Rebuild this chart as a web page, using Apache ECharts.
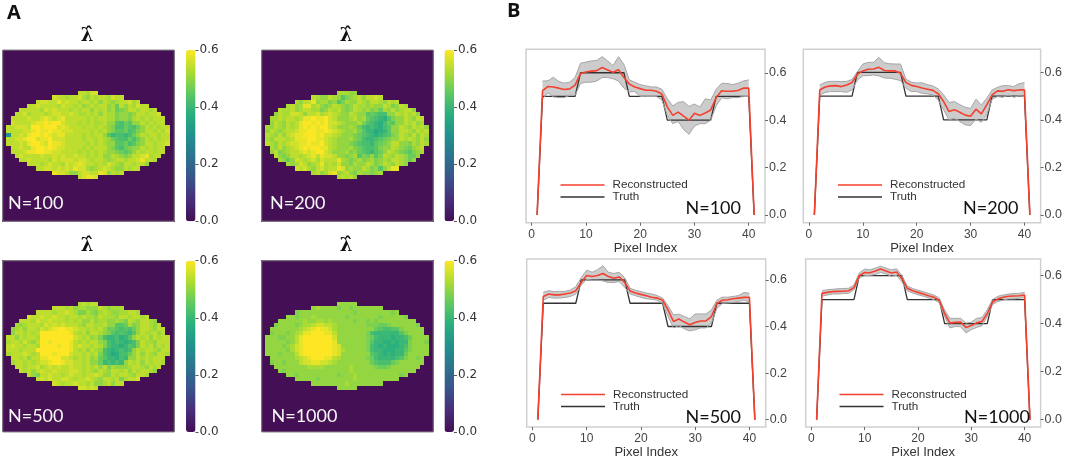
<!DOCTYPE html>
<html><head><meta charset="utf-8">
<style>html,body{margin:0;padding:0;background:#fff}#c{width:1065px;height:460px}</style>
<script src="https://cdn.jsdelivr.net/npm/echarts@6/dist/echarts.min.js"></script>
</head><body><div id="c"></div>
<script>
// Heat levels: a=0.30, b=0.32 ... k=0.50 ... p=0.60
const heat100 = ["mmlnn","nmmlmmnlkmlmmlnmm","mnnmmomnmmlmmlmkmlklmmnlm","mmnmmmmlnmmlmklmlmmklimkmlnmm","mmmmmlnmnmmmlmlmmkmlmklijkmmlmmlm","mmnlmmmlmnnmmnmllmlmkmlljkkjkmmlmmn","mmmmnmmnonmnommmmmlmlmmlljkkjlmlmlmmm","nmmmmnoopoppnmmmlmlmllmkkhgihkkmlmlmm","mmnnnmppopppnonmmmlmmlmlkjggihgikmlmlmm","mmmmnnopoopoonnnmmmmlmlmkjhhighjkmmlmln","ammnmoppoponoommmmlmlmmkhfggfgikmlmmlmm","mmnnoppnoopnnnmmmmlmmlmlkihggigikmlmlmm","mmmnmopponpoonmmmmmlmlmlkkhhighjkmmlmmn","mmnmmoppoponnmmmmlmlmmmkjhgijkkmlmlmm","mmmnooppoonnmmmmlmlmlmlkkjihikmlmmlmm","mnmmmmnmmnmnmmnmmlmlmkkmlkjkmmnolmm","mmnmmmmlnmnnnmnnmlmmlklmmlmmnomml","mmmlmnmmlnmnonmmlmlnmlkmmlmmk","mmnnmnmnmonnlklmnmlkkmlmm","onnmkkmnnmmonkmlm","mnoon"];
const heat200 = ["lllkk","mlkkmlkhjklmkmmnm","lkmmoklljkhjlkkmlkmmlkmlm","lmkloolmkjkmlkjkmllklkkmljkml","mllmklmmlljkmlmkjkmlkljkilkmklmmk","kmllnnmkmmnlmnmlkkmlkkhihggkkmlmlmk","llmlmmlmoopoopnmkkklmklihgfehjkkmlkmm","kmlkmlmoppopopnnmlkkkljhgfegihkkmlmkl","lkmlkmlmopopoppnmkkklkigfgfeghkkmlkmlmk","kmlklmmnooppooponmlkkljhffdefhkkmmlkmlm","mlkmkmnoopppopnnmlkkkjihgfefghjkmlkmkml","lkmmmlmoooppoonmlkkkljigffghijkkmlmlkmk","mlkmlmnnoopoopnmlkkkjihggfhijkmmkkjlkml","lkmklmnopoppoomlkkkljihgghjkkmlkjiklm","kmjklmmnonoppnmkkkljkihgfhikmlkjihjkl","mkjkmmlmnomonnmkkjklhjikhjmlkmlkiik","lkiknmlmnlnmmmolkjkljkljklkmmlkik","lklnmklmolmlnkkjlkkmljkmlkmlk","nmnlkmnlmmonklkkmljkhkmoo","lmklnoklmkjlkkjkl","lmlmk"];
const heat500 = ["lmlmm","mmmlmkllkkkmlklll","mmmmlmmnmljjlkjlmlkkllmml","nmmnmmnmmlmmlmllkmlllkmmlmmlm","mmmlnmmnmmmlmlmkkmkllkklkjmlkmmlk","lklmmmlnmnmnmmmlkmmllmkkhhiljkmmlkm","klmkmmlnmnoppoonmmlmlmkiihghgikmmlkmm","kmmlmlmpppppppomlmkmmlkjhghgfhkmllmkm","mmkmlmmlppppppppnmlmkljgffgefhkmlmkmlmm","lmmlnlkmppoppppomlmlmmkjgfgfefgjmllkmmm","mnmmlmmlppppoppomnmmlmljgffefhgjmlmkmlm","mmmlmmmppppppppomlmkmlkgfefgfgkmlmmlkmm","lmmmnmlmpppopppnmmlmlmjgfdeggikmkmlkmml","mmlmkmmoopppnnmlmlmklihffegfkkmlmlmmm","lmmlmlmnnopponnmmlmkkifgfgfkmlmkmlmml","mmlmmnlmnmnmmnmmlmlmkmjlkkklmmlkmlm","mlmkmnmmnmmmnnmlmlkmlkmmlmkmlmmlk","mkjmmnmmlmnmmlmmnmkkmlmmlkmml","mnmnmmnnmlmmnmlkmmlmjlmmn","nmlmmnmmlmkklmkmm","nnmnm"];
const heat1000 = ["kkkkk","klkkkkjkkjkkkkkkk","jkkkkkkkkkkkkkjkkkkkkkkjk","kkjkkklkkkkkkkjkkkkkkkjkkkkkj","kkkkkklkkllklkkkkkjkkjkjkkkkkkkkk","jkkkkjkllmnnmmlkkkkkkkjjjiijkkkkkkj","kkkkkkklmnopoonlkkkkkkkkkihgghhjkkkkk","jkkkjklmoopppoomkkkkkkkjgffffffhjkkkk","kkkjjkkmopppppppnkkkkkkkjigfffeffgikkkk","kkkkkjkmopppppppokkkkkkkjhffeefeffjkkkj","kkkkjklnoppppppponkkkkkkjgfefeeefgjkkkk","kkkkkjlnoppppppponlkkkkkjgffeeeffhjkkkk","kkkjkkkmoppppppponkkkkkkkhgfefeffikkkkk","kkkkkklmnopppoomlkkkkkkjigffffghjkkjk","jkkjkkkmnnoonnmlkkkkkkkkihgggijkkkkkk","kkkkkkkkllllkkkkkklkkkkkjiijkkkkkkk","kjkkkkkkkkkkkkkkklkkkkkkkkkkkkkkk","kkjkkkkkkkkkjkkklkkkkkkkkkkjk","kkkkkjkkkkkkkklkkkkkkkkkk","kkkkkkkklkkkkkkkk","kkkkk"];
const heatLevels = "abcdefghijklmnop";
const heatFirstRow = 10;
const gridSize = 41;

const pixels = [1,2,3,4,5,6,7,8,9,10,11,12,13,14,15,16,17,18,19,20,21,22,23,24,25,26,27,28,29,30,31,32,33,34,35,36,37,38,39,40,41];
const truth = [0,.5,.5,.5,.5,.5,.5,.5,.6,.6,.6,.6,.6,.6,.6,.6,.6,.5,.5,.5,.5,.5,.5,.5,.4,.4,.4,.4,.4,.4,.4,.4,.4,.5,.5,.5,.5,.5,.5,.5,0];

const recon100 = [0,.525,.542,.54,.535,.529,.532,.548,.597,.603,.607,.609,.622,.612,.602,.613,.58,.552,.54,.533,.526,.526,.522,.51,.456,.42,.434,.417,.40,.429,.42,.43,.443,.495,.524,.522,.522,.525,.535,.535,0];
const upper100 = [.565,.566,.581,.563,.556,.56,.58,.64,.645,.65,.652,.668,.65,.63,.668,.635,.57,.56,.55,.545,.54,.54,.53,.49,.46,.475,.478,.458,.468,.455,.49,.485,.53,.555,.555,.55,.555,.565,.57];
const lower100 = [.49,.515,.498,.495,.495,.505,.505,.555,.56,.56,.565,.58,.58,.575,.565,.535,.52,.52,.50,.50,.5,.5,.485,.42,.385,.395,.36,.34,.375,.385,.385,.40,.46,.495,.49,.495,.495,.50,.50];

const recon200 = [0,.526,.538,.543,.544,.54,.547,.557,.592,.606,.613,.614,.621,.608,.606,.606,.596,.557,.545,.54,.534,.529,.524,.51,.477,.435,.443,.432,.42,.415,.445,.425,.463,.505,.522,.52,.527,.523,.526,.526,0];
const upper200 = [.547,.558,.562,.562,.561,.562,.57,.603,.635,.642,.642,.663,.64,.636,.635,.635,.571,.559,.555,.556,.548,.543,.53,.505,.473,.477,.464,.453,.448,.487,.463,.491,.526,.537,.544,.544,.54,.552,.557];
const lower200 = [.505,.515,.519,.519,.519,.516,.526,.568,.586,.586,.589,.585,.576,.575,.571,.565,.533,.519,.519,.512,.509,.505,.484,.442,.40,.407,.393,.379,.376,.403,.39,.421,.487,.498,.495,.505,.495,.501,.498];

const recon500 = [0,.529,.54,.536,.536,.54,.544,.554,.589,.619,.615,.619,.628,.615,.607,.613,.589,.553,.544,.538,.532,.526,.522,.513,.471,.422,.432,.419,.408,.417,.424,.424,.443,.499,.513,.515,.519,.522,.525,.526,0];
const upper500 = [.547,.554,.55,.55,.551,.557,.571,.61,.642,.633,.644,.661,.633,.628,.633,.61,.564,.556,.55,.544,.54,.533,.522,.489,.45,.453,.443,.433,.454,.454,.454,.471,.513,.526,.526,.529,.533,.546,.543];
const lower500 = [.513,.525,.522,.522,.525,.529,.54,.578,.603,.599,.599,.596,.589,.589,.593,.568,.54,.532,.525,.519,.517,.513,.499,.443,.394,.404,.39,.381,.386,.394,.394,.415,.478,.499,.501,.503,.508,.513,.506];

const recon1000 = [0,.526,.53,.533,.534,.535,.537,.55,.6,.613,.612,.619,.627,.619,.611,.615,.587,.547,.537,.53,.523,.516,.51,.496,.442,.402,.405,.406,.384,.392,.403,.409,.442,.49,.503,.51,.514,.515,.516,.519,0];
const upper1000 = [.537,.541,.543,.545,.546,.547,.56,.611,.627,.624,.631,.639,.631,.624,.628,.6,.557,.546,.539,.533,.526,.519,.506,.456,.422,.422,.422,.402,.406,.422,.425,.458,.5,.514,.519,.523,.525,.526,.53];
const lower1000 = [.514,.519,.523,.523,.525,.526,.541,.591,.6,.6,.605,.613,.607,.597,.601,.573,.537,.527,.52,.514,.507,.5,.487,.429,.382,.388,.387,.361,.375,.384,.391,.429,.48,.492,.498,.503,.503,.506,.508];

const colorbarTicks = [0,.2,.4,.6];
const xTicks = [0,10,20,30,40];
const yTicks = [0,.2,.4,.6];
const viridis = ['#440f54','#472d7b','#3b528b','#2c728e','#21918c','#28ae80','#5ec962','#addc30','#fde725'];

function heatCells(rows){
  const cells=[];
  for(let y=0;y<gridSize;y++)for(let x=0;x<gridSize;x++)cells.push([x,y,0]);
  rows.forEach((s,r)=>{
    const off=Math.round((gridSize-s.length)/2);
    [...s].forEach((c,i)=>{cells[(r+heatFirstRow)*gridSize+off+i][2]=.30+.02*heatLevels.indexOf(c);});
  });
  return cells;
}
function renderCell(params,api){
  const c=api.coord([api.value(0),api.value(1)]);
  const s=api.size([1,1]);
  const x0=Math.floor(c[0]-s[0]/2),x1=Math.ceil(c[0]+s[0]/2),y0=Math.floor(c[1]-s[1]/2),y1=Math.ceil(c[1]+s[1]/2);
  return {type:'rect',shape:{x:x0,y:y0,width:x1-x0,height:y1-y0},style:{fill:api.visual('color')}};
}
function bandRenderer(band,up,lo){
  return function(params,api){
    if(params.dataIndex!==0) return null;
    const pts=[];
    band.forEach((x,i)=>pts.push(api.coord([x,up[i]])));
    for(let i=band.length-1;i>=0;i--)pts.push(api.coord([band[i],lo[i]]));
    return {type:'polygon',shape:{points:pts},style:{fill:'rgba(120,120,120,0.38)'}};
  };
}
const idx=[...Array(gridSize).keys()];
const opt={animation:false,backgroundColor:'#fff',grid:[],xAxis:[],yAxis:[],series:[],visualMap:[],legend:[],graphic:{elements:[]}};
const texts=opt.graphic.elements;
function txt(x,y,t,size,font,fill,align){texts.push({type:'text',left:x,top:y-size*0.45,z:20,style:{text:t,font:font,fill:fill,textAlign:align||'left'}});}

// Panel A
const heatPanels=[
 {rows:heat100,l:2.7,t:50,w:171.6,h:171.3,cb:186,n:'N=100',nx:8,ny:202},
 {rows:heat200,l:261.7,t:50,w:171.6,h:171.3,cb:444.5,n:'N=200',nx:270,ny:202},
 {rows:heat500,l:2.7,t:260.7,w:171.6,h:171.3,cb:186,n:'N=500',nx:8,ny:415},
 {rows:heat1000,l:261.7,t:260.7,w:171.6,h:171.3,cb:444.5,n:'N=1000',nx:271.5,ny:415},
];
heatPanels.forEach(p=>{
  const g=opt.grid.length;
  opt.grid.push({left:p.l,top:p.t,width:p.w,height:p.h,show:true,borderColor:'#8a8a8a',borderWidth:1,backgroundColor:'transparent',z:5});
  opt.xAxis.push({gridIndex:g,type:'category',data:idx,show:false});
  opt.yAxis.push({gridIndex:g,type:'category',data:idx,show:false,inverse:true});
  const si=opt.series.length;
  opt.series.push({type:'custom',coordinateSystem:'cartesian2d',xAxisIndex:g,yAxisIndex:g,data:heatCells(p.rows),encode:{x:0,y:1},renderItem:renderCell,progressive:0,silent:true});
  opt.visualMap.push({type:'continuous',seriesIndex:si,dimension:2,min:0,max:.6,left:p.cb,top:p.t,itemWidth:9.5,itemHeight:p.h,padding:0,text:null,showLabel:false,calculable:false,realtime:false,hoverLink:false,inRange:{color:viridis}});
  opt.grid.push({left:p.cb,top:p.t,width:9.5,height:p.h,show:false});
  opt.xAxis.push({gridIndex:g+1,type:'value',show:false,min:0,max:1});
  opt.yAxis.push({gridIndex:g+1,type:'value',position:'right',min:0,max:.6,splitLine:{show:false},axisLine:{show:false,onZero:false},
    axisTick:{show:true,length:3,lineStyle:{color:'#555',width:1},customValues:colorbarTicks},
    axisLabel:{margin:4,fontFamily:'DejaVu Sans',fontSize:12,color:'#333',customValues:colorbarTicks,formatter:v=>v.toFixed(1)}});
  txt(p.nx,p.ny,p.n,18,'18px Lato','#f7f7f7');
  txt(p.l+78,p.t-15,'\u03BB\u0302',18,'bold 18px "DejaVu Serif"','#111','center');
});

// Panel B
const linePanels=[
 {recon:recon100,up:upper100,lo:lower100,l:526,t:49.3,w:239,h:173.4,ymin:-.033,ymax:.699,n:'N=100',nx:685.5,ny:207,lx:560.5,ly:179},
 {recon:recon200,up:upper200,lo:lower200,l:803.3,t:49.3,w:239,h:173.4,ymin:-.033,ymax:.697,n:'N=200',nx:963,ny:207,lx:838,ly:179},
 {recon:recon500,up:upper500,lo:lower500,l:526.7,t:259,w:239,h:173,ymin:-.032,ymax:.69,n:'N=500',nx:685.5,ny:416.5,lx:561,ly:388.5},
 {recon:recon1000,up:upper1000,lo:lower1000,l:805.7,t:259,w:238.5,h:173,ymin:-.031,ymax:.669,n:'N=1000',nx:964,ny:416.5,lx:839.5,ly:388.5},
];
linePanels.forEach((p,k)=>{
  const g=opt.grid.length;
  opt.grid.push({left:p.l,top:p.t,width:p.w,height:p.h,show:true,borderColor:'#d0d0d0',borderWidth:1.5,backgroundColor:'transparent'});
  opt.xAxis.push({gridIndex:g,type:'value',min:-1.05,max:43,splitLine:{show:false},axisLine:{show:false,onZero:false},
    name:'Pixel Index',nameLocation:'middle',nameGap:18.5,nameTextStyle:{fontFamily:'Liberation Sans',fontSize:13,color:'#333'},
    axisTick:{show:true,length:3,lineStyle:{color:'#666'},customValues:xTicks},
    axisLabel:{margin:6,fontFamily:'Liberation Sans',fontSize:12,color:'#444',customValues:xTicks}});
  opt.yAxis.push({gridIndex:g,type:'value',position:'right',min:p.ymin,max:p.ymax,splitLine:{show:false},axisLine:{show:false,onZero:false},
    axisTick:{show:true,length:3,lineStyle:{color:'#666'},customValues:yTicks},
    axisLabel:{margin:4,fontFamily:'Liberation Sans',fontSize:12.5,color:'#444',customValues:yTicks,formatter:v=>v.toFixed(1)}});
  const band=pixels.slice(1,40);
  const base={type:'line',xAxisIndex:g,yAxisIndex:g,showSymbol:false,silent:true};
  opt.series.push(Object.assign({},base,{name:'Truth',data:pixels.map((x,i)=>[x,truth[i]]),lineStyle:{color:'#333',width:1.3},itemStyle:{color:'#333'}}));
  opt.series.push({type:'custom',name:'band'+k,coordinateSystem:'cartesian2d',xAxisIndex:g,yAxisIndex:g,data:band.map((x,i)=>[x,p.lo[i],p.up[i]]),encode:{x:0,y:[1,2]},renderItem:bandRenderer(band,p.up,p.lo),silent:true});
  opt.series.push(Object.assign({},base,{name:'lower'+k,data:band.map((x,i)=>[x,p.lo[i]]),lineStyle:{color:'#a6a6a6',width:1}}));
  opt.series.push(Object.assign({},base,{name:'upper'+k,data:band.map((x,i)=>[x,p.up[i]]),lineStyle:{color:'#a6a6a6',width:1}}));
  opt.series.push(Object.assign({},base,{name:'Reconstructed',data:pixels.map((x,i)=>[x,p.recon[i]]),lineStyle:{color:'#f4402e',width:1.6},itemStyle:{color:'#f4402e'}}));
  opt.legend.push({show:true,data:['Reconstructed','Truth'],orient:'vertical',left:p.lx,top:p.ly,padding:0,itemGap:0,itemWidth:44,itemHeight:1.6,icon:'rect',selectedMode:false,
    textStyle:{fontFamily:'Liberation Sans',fontSize:11.7,color:'#333',height:11,lineHeight:11,padding:[0,0,0,3]}});
  txt(p.nx,p.ny,p.n,18,'18px Lato','#111');
});
txt(7,12,'A',20,'bold 20px "Open Sans"','#111');
txt(507,10,'B',20,'bold 20px "Open Sans"','#111');

const chart=echarts.init(document.getElementById('c'),null,{renderer:'canvas'});
chart.setOption(opt);
</script></body></html>
